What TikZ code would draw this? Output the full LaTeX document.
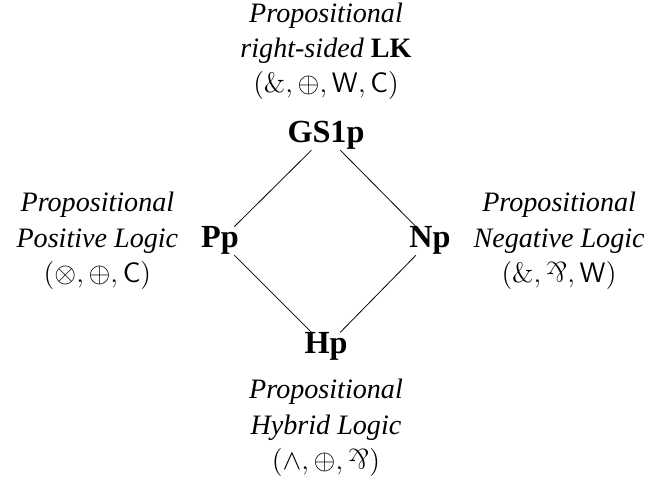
\documentclass[tikz,border=0pt]{standalone}
\usepackage[no-math]{fontspec}
\setmainfont{Liberation Serif}
\usepackage{amsmath,amssymb}
\usepackage{graphicx}
\usepackage{tikz}
\usetikzlibrary{positioning}
\newcommand{\cmamp}{{\usefont{OT1}{cmr}{m}{n}\&}}
\newcommand{\withsym}{\mathord{\text{\cmamp}}}
\newcommand{\parrsym}{\mathbin{\rotatebox[origin=c]{180}{\cmamp}}}

\begin{document}
\begin{tikzpicture}[
  logic/.style={font=\fontsize{16.5}{19}\selectfont\bfseries, inner sep=0pt},
  caption/.style={font=\Large, align=center, inner sep=0pt},
  node distance=0.4cm
]
\useasboundingbox (0,0) rectangle (11.772,8.658);

\node[logic, anchor=base] (GS1p) at (5.868,6.084) {GS1p};
\node[logic, anchor=base] (Pp) at (3.96,4.194) {Pp};
\node[logic, anchor=base] (Np) at (7.74,4.194) {Np};
\node[logic, anchor=base] (Hp) at (5.868,2.286) {Hp};

\node[caption, above=0.38cm of GS1p] (GS1pinfo) {\textit{Propositional}\\\textit{right-sided} \textbf{LK}\\$(\withsym, \oplus, \mathsf{W}, \mathsf{C})$};
\node[caption, left=0.4cm of Pp] (Ppinfo) {\textit{Propositional}\\\textit{Positive Logic}\\$(\otimes, \oplus, \mathsf{C})$};
\node[caption, right=0.4cm of Np] (Npinfo) {\textit{Propositional}\\\textit{Negative Logic}\\$(\withsym, \parrsym, \mathsf{W})$};
\node[caption, below=0.32cm of Hp] (Hpinfo) {\textit{Propositional}\\\textit{Hybrid Logic}\\$(\wedge, \oplus, \parrsym)$};

\draw (GS1p) -- (Pp);
\draw (GS1p) -- (Np);
\draw (Pp) -- (Hp);
\draw (Np) -- (Hp);
\end{tikzpicture}
\end{document}
